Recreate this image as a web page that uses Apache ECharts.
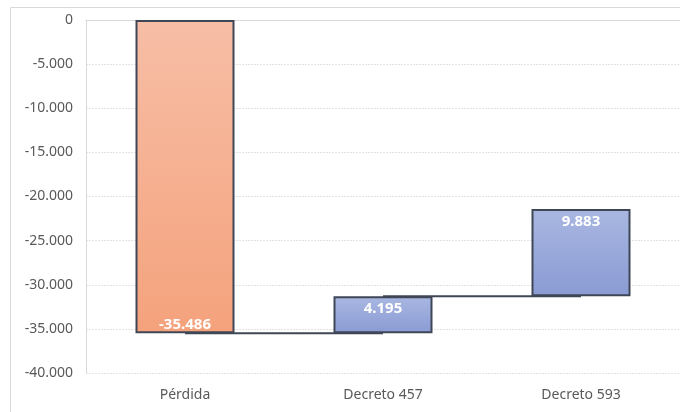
<!DOCTYPE html>
<html>
<head>
<meta charset="utf-8">
<script src="https://cdn.jsdelivr.net/npm/echarts@6/dist/echarts.min.js"></script>
<style>
html,body{margin:0;padding:0;background:#fff;}
#chart{width:680px;height:412px;}
</style>
</head>
<body>
<div id="chart"></div>
<script>
var categories = ['Pérdida', 'Decreto 457', 'Decreto 593'];
var values = [-35486, 4195, 9883];
var yTicks = { min: -40000, max: 0, interval: 5000 };
var connector1 = [-35486, -35486, '-'];
var connector2 = ['-', -31291, -31291];

var base = [];
var acc = 0;
for (var i = 0; i < values.length; i++) { base.push(acc); acc += values[i]; }

function fmt(v) {
  var s = Math.abs(v).toString().replace(/\B(?=(\d{3})+(?!\d))/g, '.');
  return (v < 0 ? '-' : '') + s;
}

var orange = new echarts.graphic.LinearGradient(0, 0, 0, 1, [
  { offset: 0, color: '#F7BEA6' }, { offset: 1, color: '#F4A27C' }
]);
var blue = new echarts.graphic.LinearGradient(0, 0, 0, 1, [
  { offset: 0, color: '#A9B7E1' }, { offset: 1, color: '#8A9BD4' }
]);

var chart = echarts.init(document.getElementById('chart'), null, { renderer: 'canvas' });
var font = 'Noto Sans';
chart.setOption({
  animation: false,
  textStyle: { fontFamily: font },
  graphic: [{
    type: 'rect', z: -10,
    shape: { x: 10.5, y: 7.5, width: 700, height: 420 },
    style: { fill: 'none', stroke: '#d9d9d9', lineWidth: 1 }
  }],
  grid: { left: 86, right: 0, top: 20, bottom: 39 },
  xAxis: {
    type: 'category',
    data: categories,
    axisLine: { lineStyle: { color: '#d9d9d9' } },
    axisTick: { show: false },
    axisLabel: { color: '#595959', fontSize: 14, margin: 15, fontFamily: font }
  },
  yAxis: {
    type: 'value',
    min: yTicks.min, max: yTicks.max, interval: yTicks.interval,
    axisLine: { show: true, lineStyle: { color: '#d9d9d9' } },
    splitLine: { lineStyle: { color: '#e3e3e3', type: [2, 1] } },
    axisLabel: { color: '#595959', fontSize: 14, margin: 13, fontFamily: font, formatter: fmt }
  },
  series: [
    {
      type: 'bar', stack: 'wf', stackStrategy: 'all', barWidth: '50%',
      data: base, itemStyle: { color: 'transparent' }, silent: true
    },
    {
      type: 'bar', stack: 'wf', stackStrategy: 'all', barWidth: '50%', z: 3,
      data: values.map(function (v, i) {
        return {
          value: v,
          itemStyle: { color: i === 0 ? orange : blue },
          label: { position: i === 0 ? 'insideBottom' : 'insideTop', distance: i === 0 ? 1 : 5 }
        };
      }),
      itemStyle: { borderColor: '#3f4756', borderWidth: 2 },
      label: {
        show: true, color: '#ffffff', fontWeight: 'bold', fontSize: 15, fontFamily: font,
        formatter: function (p) { return fmt(p.value); }
      }
    },
    {
      type: 'line', data: connector1, symbol: 'none', z: 1,
      lineStyle: { color: '#3f4756', width: 2 }
    },
    {
      type: 'line', data: connector2, symbol: 'none', z: 1,
      lineStyle: { color: '#3f4756', width: 2 }
    }
  ]
});
</script>
</body>
</html>
